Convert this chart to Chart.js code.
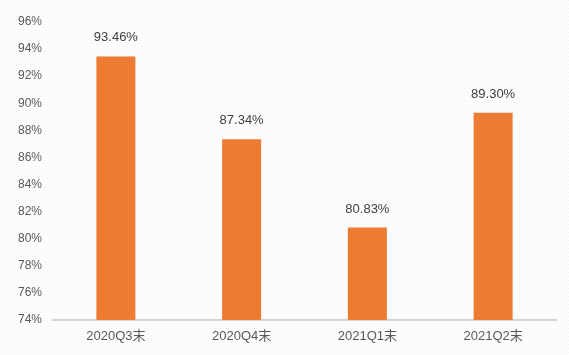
<!DOCTYPE html>
<html>
<head>
<meta charset="utf-8">
<script src="https://cdn.jsdelivr.net/npm/chart.js@4.4.1/dist/chart.umd.min.js"></script>
<style>
  html, body { margin: 0; padding: 0; background: #fff; }
  #wrap { width: 569px; height: 355px; }
</style>
</head>
<body>
<div id="wrap"><canvas id="c" width="569" height="355"></canvas></div>
<script>
const categories = ['2020Q3末', '2020Q4末', '2021Q1末', '2021Q2末'];
const ratios = [93.46, 87.34, 80.83, 89.30];
const yTicks = [74, 76, 78, 80, 82, 84, 86, 88, 90, 92, 94, 96];

const FONT = "'Liberation Sans', 'Noto Sans CJK SC', sans-serif";

// small textured fills, like the office-style hatch
function makePattern(base, dot, size) {
  const p = document.createElement('canvas');
  p.width = size; p.height = size;
  const g = p.getContext('2d');
  g.fillStyle = base;
  g.fillRect(0, 0, size, size);
  g.fillStyle = dot;
  for (let i = 0; i < size; i++) {
    g.fillRect(i, (i * 2) % size, 1, 1);
  }
  return g.createPattern(p, 'repeat');
}
const ctx = document.getElementById('c').getContext('2d');
const barFill = makePattern('#EF7E34', '#E87530', 4);
const bgFill = makePattern('#FFFFFF', '#F3F3F3', 4);

const background = {
  id: 'background',
  beforeDraw(chart) {
    const c = chart.ctx;
    c.save();
    c.fillStyle = bgFill;
    c.fillRect(0, 0, chart.width, chart.height);
    c.restore();
  }
};

const valueLabels = {
  id: 'valueLabels',
  afterDatasetsDraw(chart) {
    const c = chart.ctx;
    const meta = chart.getDatasetMeta(0);
    c.save();
    c.font = '13px ' + FONT;
    c.fillStyle = '#404040';
    c.textAlign = 'center';
    c.textBaseline = 'bottom';
    meta.data.forEach((bar, i) => {
      c.fillText(ratios[i].toFixed(2) + '%', bar.x, bar.y - 12);
    });
    c.restore();
  }
};

new Chart(ctx, {
  type: 'bar',
  data: {
    labels: categories,
    datasets: [{
      data: ratios,
      backgroundColor: barFill,
      borderWidth: 0,
      barPercentage: 0.62,
      categoryPercentage: 0.5
    }]
  },
  options: {
    responsive: false,
    animation: false,
    layout: { padding: { top: 22, right: 13, left: 0, bottom: 0 } },
    plugins: { legend: { display: false }, tooltip: { enabled: false } },
    scales: {
      x: {
        grid: { display: false, drawTicks: false },
        border: { display: true, color: '#D4D4D4', width: 2 },
        ticks: { color: '#595959', font: { size: 13, family: FONT }, padding: 9 },
        afterFit(scale) { scale.height = 35; }
      },
      y: {
        min: 74,
        max: 96,
        afterBuildTicks(scale) { scale.ticks = yTicks.map(v => ({ value: v })); },
        grid: { display: false, drawTicks: false },
        border: { display: false },
        ticks: {
          color: '#595959',
          font: { size: 12, family: FONT },
          padding: 11,
          callback: v => v + '%'
        },
        afterFit(scale) { scale.width = 53; }
      }
    }
  },
  plugins: [background, valueLabels]
});
</script>
</body>
</html>
